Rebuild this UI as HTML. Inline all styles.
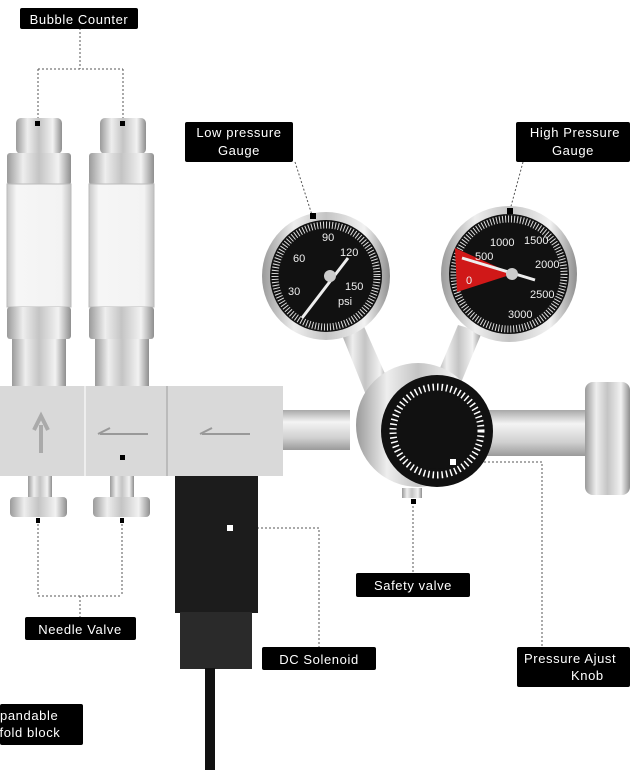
<!DOCTYPE html>
<html><head><meta charset="utf-8"><style>
html,body{margin:0;padding:0;background:#fff;}
svg{display:block}
text{font-family:"Liberation Sans",sans-serif;}
</style></head><body>
<svg width="630" height="780" viewBox="0 0 630 780" xmlns="http://www.w3.org/2000/svg">
<defs>
<linearGradient id="met" x1="0" x2="1" y1="0" y2="0">
<stop offset="0" stop-color="#9a9a9a"/><stop offset="0.25" stop-color="#eeeeee"/><stop offset="0.5" stop-color="#c4c4c4"/><stop offset="0.8" stop-color="#f2f2f2"/><stop offset="1" stop-color="#8e8e8e"/></linearGradient>
<linearGradient id="metv" x1="0" x2="0" y1="0" y2="1">
<stop offset="0" stop-color="#a8a8a8"/><stop offset="0.3" stop-color="#f4f4f4"/><stop offset="0.7" stop-color="#d0d0d0"/><stop offset="1" stop-color="#9a9a9a"/></linearGradient>
<linearGradient id="glass" x1="0" x2="1"><stop offset="0" stop-color="#c8c8c8"/><stop offset="0.15" stop-color="#f6f6f6"/><stop offset="0.85" stop-color="#f3f3f3"/><stop offset="1" stop-color="#c0c0c0"/></linearGradient>
</defs>
<g fill="none" stroke="#555" stroke-width="1" stroke-dasharray="2,2">
<path d="M80 28V69M38 69H123M38 69V120M123 69V120"/>
<path d="M38 520V596M122 520V596M38 596H122M80 596V617"/>
<path d="M0 457H122"/>
<path d="M229 528H319V647"/>
<path d="M413 502V573"/>
<path d="M452 462H542V647"/>
<path d="M295 162L312 215"/>
<path d="M523 162L510 210"/>
</g>
<!-- bubble counters -->
<g>
<rect x="16" y="118" width="46" height="36" rx="5" fill="url(#met)"/>
<rect x="7" y="153" width="64" height="32" rx="3" fill="url(#met)"/>
<rect x="7" y="184" width="64" height="123" fill="url(#glass)" stroke="#bbb"/>
<rect x="7" y="307" width="64" height="32" rx="3" fill="url(#met)"/>
<rect x="12" y="339" width="54" height="48" fill="url(#met)"/>
<rect x="100" y="118" width="46" height="36" rx="5" fill="url(#met)"/>
<rect x="89" y="153" width="65" height="32" rx="3" fill="url(#met)"/>
<rect x="89" y="184" width="65" height="123" fill="url(#glass)" stroke="#bbb"/>
<rect x="89" y="307" width="65" height="32" rx="3" fill="url(#met)"/>
<rect x="95" y="339" width="54" height="48" fill="url(#met)"/>
<rect x="35" y="121" width="5" height="5" fill="#000"/><rect x="120" y="121" width="5" height="5" fill="#000"/>
</g>
<!-- manifold -->
<rect x="0" y="386" width="283" height="90" fill="#d9d9d9"/>
<line x1="85" y1="386" x2="85" y2="476" stroke="#eee" stroke-width="2"/>
<line x1="167" y1="386" x2="167" y2="476" stroke="#bbb" stroke-width="2"/>
<path d="M41 453V425M34 430L41 416L48 430" stroke="#aaa" stroke-width="4" fill="none"/>
<path d="M148 434H100M110 428L98 434" stroke="#999" stroke-width="2" fill="none"/>
<path d="M250 434H202M212 428L200 434" stroke="#999" stroke-width="2" fill="none"/>
<rect x="120" y="455" width="5" height="5" fill="#000"/>
<!-- needle valves -->
<rect x="28" y="476" width="24" height="22" fill="url(#met)"/><rect x="110" y="476" width="24" height="22" fill="url(#met)"/>
<rect x="10" y="497" width="57" height="20" rx="4" fill="url(#met)"/><rect x="93" y="497" width="57" height="20" rx="4" fill="url(#met)"/>
<rect x="36" y="518" width="4" height="5" fill="#000"/><rect x="120" y="518" width="4" height="5" fill="#000"/>
<!-- solenoid -->
<rect x="175" y="476" width="83" height="137" fill="#1c1c1c"/>
<rect x="180" y="612" width="72" height="57" fill="#2a2a2a"/>
<rect x="205" y="668" width="10" height="102" fill="#111"/>
<rect x="227" y="525" width="6" height="6" fill="#fff"/>
<!-- fitting + tube -->
<rect x="283" y="410" width="67" height="40" fill="url(#metv)"/>
<rect x="480" y="410" width="115" height="46" fill="url(#metv)"/>
<rect x="585" y="382" width="45" height="113" rx="8" fill="url(#met)"/>
<!-- gauge stems -->
<path d="M340 330L362 322L390 385L366 395Z" fill="url(#met)"/>
<path d="M458 325L482 332L458 390L435 380Z" fill="url(#met)"/>
<!-- regulator -->
<circle cx="418" cy="425" r="62" fill="url(#met)"/>
<circle cx="437" cy="431" r="56" fill="#111"/>
<circle cx="437" cy="431" r="44" fill="none" stroke="#fff" stroke-width="7" stroke-dasharray="1.5,3"/>
<circle cx="437" cy="431" r="38" fill="#111"/>
<rect x="450" y="459" width="6" height="6" fill="#fff"/>
<rect x="402" y="488" width="20" height="10" fill="url(#met)"/>
<rect x="411" y="499" width="5" height="5" fill="#000"/>
<!-- low gauge -->
<circle cx="326" cy="276" r="64" fill="url(#met)"/>
<circle cx="326" cy="276" r="56" fill="#111"/>
<circle cx="326" cy="276" r="51" fill="none" stroke="#ddd" stroke-width="7" stroke-dasharray="1,2"/>
<line x1="302" y1="318" x2="348" y2="258" stroke="#eee" stroke-width="3"/>
<circle cx="330" cy="276" r="6" fill="#ccc"/>
<g fill="#eee" font-size="11"><text x="293" y="262">60</text><text x="322" y="241">90</text><text x="340" y="256">120</text><text x="345" y="290">150</text><text x="288" y="295">30</text><text x="338" y="305">psi</text></g>
<rect x="310" y="213" width="6" height="6" fill="#000"/>
<!-- high gauge -->
<circle cx="509" cy="274" r="68" fill="url(#met)"/>
<circle cx="509" cy="274" r="60" fill="#111"/>
<circle cx="509" cy="274" r="55" fill="none" stroke="#ddd" stroke-width="7" stroke-dasharray="1,2"/>
<path d="M455 248L513 274L457 292Z" fill="#d01818"/>
<line x1="462" y1="258" x2="535" y2="280" stroke="#eee" stroke-width="3"/>
<circle cx="512" cy="274" r="6" fill="#ccc"/>
<g fill="#eee" font-size="11"><text x="490" y="246">1000</text><text x="524" y="244">1500</text><text x="535" y="268">2000</text><text x="530" y="298">2500</text><text x="508" y="318">3000</text><text x="475" y="260">500</text><text x="466" y="284">0</text></g>
<rect x="507" y="208" width="6" height="6" fill="#000"/>
<!-- labels -->
<g fill="#000"><rect x="20" y="8" width="118" height="21" rx="2"/><rect x="185" y="122" width="108" height="40" rx="2"/><rect x="516" y="122" width="114" height="40" rx="2"/><rect x="25" y="617" width="111" height="23" rx="2"/><rect x="262" y="647" width="114" height="23" rx="2"/><rect x="356" y="573" width="114" height="24" rx="2"/><rect x="517" y="647" width="113" height="40" rx="2"/><rect x="0" y="704" width="83" height="41" rx="2"/></g>
<g fill="#fff" font-size="13" text-anchor="middle" letter-spacing="0.6">
<text x="79" y="24">Bubble Counter</text>
<text x="239" y="137">Low pressure</text><text x="239" y="155">Gauge</text>
<text x="575" y="137">High Pressure</text><text x="573" y="155">Gauge</text>
<text x="80" y="634">Needle Valve</text>
<text x="319" y="664">DC Solenoid</text>
<text x="413" y="590">Safety valve</text>
</g>
<g fill="#fff" font-size="13" letter-spacing="0.6">
<text x="524" y="663">Pressure Ajust</text>
<text x="571" y="680">Knob</text>
<text x="0" y="720">pandable</text><text x="-4" y="737">ifold block</text>
</g>
</svg>
</body></html>
